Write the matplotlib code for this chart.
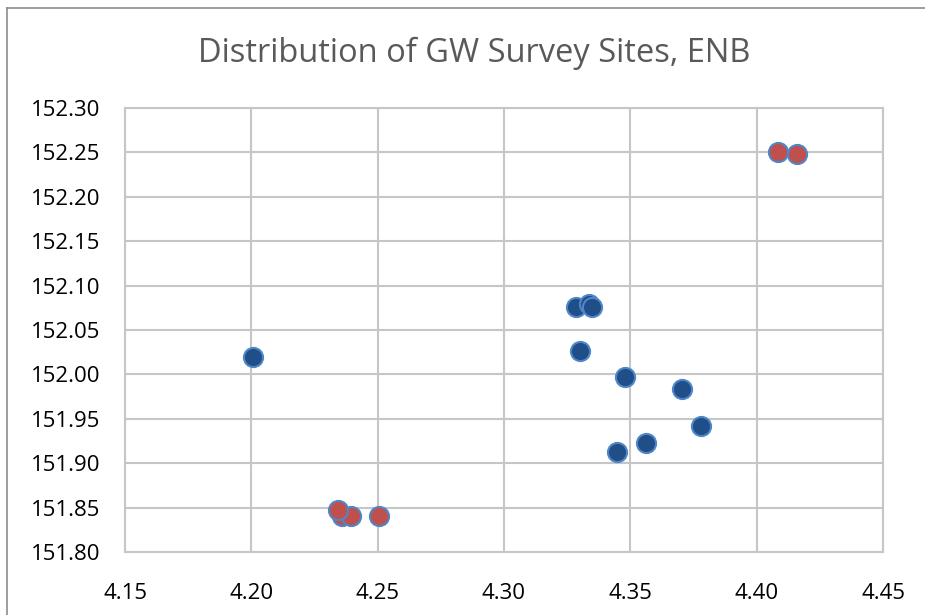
import matplotlib
matplotlib.use("Agg")
import matplotlib.pyplot as plt
from matplotlib.lines import Line2D

plt.rcParams['font.family'] = ['Open Sans', 'DejaVu Sans']

# blue sites
blue_x = [4.2007, 4.3285, 4.3337, 4.3349, 4.3300, 4.3480, 4.3705, 4.3780, 4.3563, 4.3448]
blue_y = [152.020, 152.076, 152.079, 152.076, 152.026, 151.997, 151.984, 151.942, 151.923, 151.913]

# red sites
red_x = [4.4085, 4.4160, 4.2359, 4.2395, 4.2506, 4.2343]
red_y = [152.250, 152.248, 151.841, 151.841, 151.841, 151.847]

x_ticks = [4.15, 4.20, 4.25, 4.30, 4.35, 4.40, 4.45]
y_ticks = [151.80, 151.85, 151.90, 151.95, 152.00, 152.05, 152.10, 152.15, 152.20, 152.25, 152.30]

TITLE = "Distribution of GW Survey Sites, ENB"

fig = plt.figure(figsize=(9.25, 6.15), dpi=100)
ax = fig.add_axes([125 / 925, 63 / 615, 758 / 925, 444 / 615])

grid_c = "#C6C6C6"
ax.scatter(blue_x, blue_y, s=190, color="#1F4E88", edgecolors="#4F86C6",
           linewidths=1.5, zorder=3)
ax.scatter(red_x, red_y, s=190, color="#C0504D", edgecolors="#4F86C6",
           linewidths=1.5, zorder=4)

ax.set_xlim(4.15, 4.45)
ax.set_ylim(151.80, 152.30)
ax.set_xticks(x_ticks)
ax.set_xticklabels([f"{v:.2f}" for v in x_ticks])
ax.set_yticks(y_ticks)
ax.set_yticklabels([f"{v:.2f}" for v in y_ticks])

ax.grid(True, color=grid_c, linewidth=1.5, zorder=0)
ax.set_axisbelow(True)
for s in ax.spines.values():
    s.set_color(grid_c)
    s.set_linewidth(1.5)
ax.tick_params(length=0, labelsize=16, colors="#000000")
ax.tick_params(axis="x", pad=22)
ax.tick_params(axis="y", pad=18)

fig.text(474 / 925, 1 - 53 / 615, TITLE, ha="center", va="center",
         fontsize=23.5, color="#595959")

# chart border (left and top visible)
fig.add_artist(Line2D([7 / 925, 7 / 925], [0, 1 - 8 / 615], transform=fig.transFigure,
                      color="#8C8C8C", linewidth=1.2))
fig.add_artist(Line2D([7 / 925, 1], [1 - 8 / 615, 1 - 8 / 615], transform=fig.transFigure,
                      color="#8C8C8C", linewidth=1.2))

fig.savefig("out.png", dpi=100)
